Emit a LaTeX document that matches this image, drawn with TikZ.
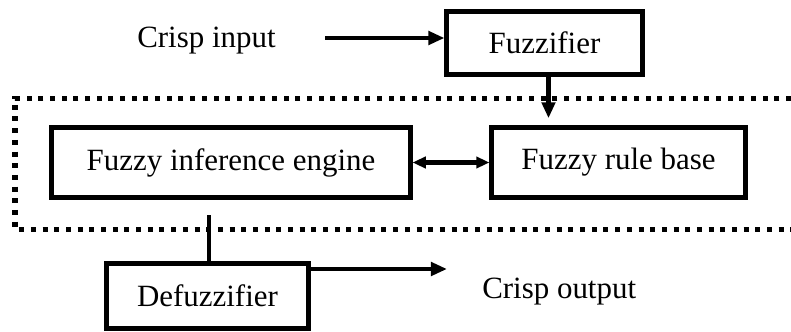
\documentclass[tikz,border=0pt]{standalone}
\usepackage{fontspec}
\setmainfont{Liberation Serif}
\usetikzlibrary{arrows.meta, calc, positioning}
\newcommand{\blockFont}{\fontsize{22}{26}\selectfont}
\tikzset{
    block/.style={rectangle, draw, line width=0.125cm, inner sep=0pt, font=\blockFont},
    plainText/.style={inner sep=0pt, font=\blockFont},
    flowEdge/.style={-{Triangle[length=0.4cm, width=0.33cm]}, line width=0.11cm},
    flowBoth/.style={{Triangle[length=0.33cm, width=0.28cm]}-{Triangle[length=0.33cm, width=0.28cm]}, line width=0.11cm},
    flowLine/.style={line width=0.11cm},
    dotFrame/.style={line width=0.125cm, dash pattern=on 0.125cm off 0.167cm},
}
\newcommand{\drawFlow}[3][flowEdge]{
    \draw[#1] (#2) -- (#3);
}
\begin{document}
\begin{tikzpicture}[x=0.025cm, y=-0.025cm]
    \useasboundingbox (0,0) rectangle (791,331);

    % blocks
    \node[block, minimum width=4.875cm, minimum height=1.55cm] (fuzz) at (544.5, 43) {Fuzzifier};
    \node[block, minimum width=8.95cm, minimum height=1.725cm] (infer) at (231, 162.5) {Fuzzy inference engine};
    \node[block, minimum width=6.325cm, minimum height=1.725cm] (rules) at (618.5, 162.5) {Fuzzy rule base};
    \node[block, minimum width=5.025cm, minimum height=1.6cm] (defuzz) at (207.5, 296) {Defuzzifier};

    % free texts
    \node[plainText, anchor=base west] (crispIn) at (137, 47) {Crisp input};
    \node[plainText, anchor=base west] (crispOut) at (482, 298) {Crisp output};

    % open dotted frame round the inference part
    \draw[dotFrame] (791, 98) -- (15, 98) -- (15, 229) -- (791, 229);

    % connectors
    \coordinate (inStart) at (325, 38);
    \coordinate (tap) at (209, 215);
    \coordinate (outTip) at (447, 269);

    \drawFlow{inStart}{inStart -| fuzz.west}
    \draw[flowEdge, shorten >=0.18cm] ([xshift=0.1cm]fuzz.south) -- ([xshift=0.1cm]fuzz.south |- rules.north);
    \drawFlow[flowBoth]{infer.east}{rules.west}
    \drawFlow[flowLine]{tap}{tap |- defuzz.north}
    \drawFlow{defuzz.east |- outTip}{outTip}

\end{tikzpicture}
\end{document}
